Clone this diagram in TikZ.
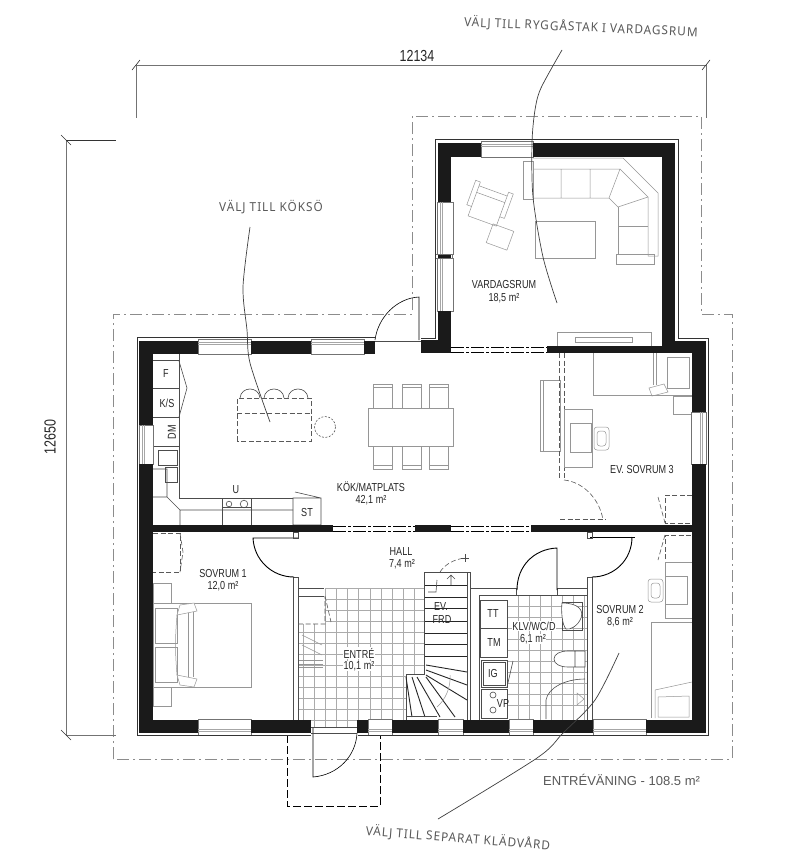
\documentclass[tikz,border=0pt]{standalone}
\usepackage{fontspec}
\setmainfont[FakeStretch=0.78]{Liberation Sans}
\newfontfamily\plainfont{Liberation Sans}
\newfontfamily\handfont[LetterSpace=8,FakeStretch=0.95]{Noto Sans}
\definecolor{wallblack}{HTML}{1A1A1A}
\definecolor{furngray}{HTML}{969696}
\definecolor{tilegray}{HTML}{ABABAB}
\tikzset{
  wall/.style = {fill=wallblack},
  windowbox/.style = {draw=black!55, fill=white, line width=0.45pt},
  winrule/.style = {draw=black!35, line width=0.45pt},
  outline/.style = {draw=black!80, line width=0.8pt},
  opening/.style = {draw=black, line width=0.9pt, dash pattern=on 13pt off 2pt on 3pt off 2pt},
  plotline/.style = {draw=black!45, line width=0.9pt, dash pattern=on 12pt off 4pt on 2pt off 4pt},
  furn/.style = {draw=furngray, line width=0.5pt},
  furndash/.style = {draw=black!65, line width=0.6pt, dash pattern=on 5pt off 2.5pt},
  fixture/.style = {draw=black!70, line width=0.6pt},
  tile/.style = {draw=tilegray, line width=0.45pt},
  door/.style = {draw=black, line width=0.9pt},
  leader/.style = {draw=black!75, line width=0.7pt},
  dim/.style = {draw=black!55, line width=0.8pt},
  room/.style = {inner sep=0.5pt, font=\fontsize{11.6}{12}\selectfont, text=black!85},
  roomfill/.style = {room, fill=white},
  hand/.style = {inner sep=0pt, font=\handfont\fontsize{12.4}{14}\selectfont, text=black!65}
}
\begin{document}
\begin{tikzpicture}[x=1pt, y=-1pt]
  \useasboundingbox (0,0) rectangle (800,865);
  \fill[white] (0,0) rectangle (800,865);
  % tiles
  \foreach \tx in {325,336.2,347.4,358.6,369.8,381,392.2,403.4,414.6}
    \draw[tile] (\tx,588) -- (\tx,727);
  \foreach \tx in {303,314}
    \draw[tile] (\tx,624) -- (\tx,727);
  \foreach \ty in {588,599,610,621}
    \draw[tile] (325,\ty) -- (424,\ty);
  \foreach \ty in {632,643,654,665,676,687,698,709,720}
    \draw[tile] (298,\ty) -- (424,\ty);
  \foreach \tx in {518,529,540,551,562,573,584}
    \draw[tile] (\tx,595) -- (\tx,720);
  \foreach \ty in {606,617,628,639,650,661,672,683,694,705}
    \draw[tile] (507,\ty) -- (587,\ty);
  % outer plot line
  \draw[plotline] (113,759) -- (113,314) -- (412,314) -- (412,116) -- (701,116) -- (701,314) -- (732,314) -- (732,759) -- cycle;
  % dimensions
  \draw[dim] (136,65) -- (706,65);
  \draw[dim] (136,65) -- (136,118);
  \draw[dim] (706,65) -- (706,118);
  \draw[dim] (66,140) -- (66,735);
  \draw[dim, black!80] (66,140) -- (116,140);
  \draw[dim] (66,735) -- (116,735);
  \foreach \tx/\ty in {136/65,706/65}
    \draw[black!80, line width=0.6pt] (\tx-4,\ty+5) -- (\tx+4,\ty-5);
  \foreach \tx/\ty in {66/140,66/735}
    \draw[black!80, line width=0.6pt] (\tx-5,\ty-5) -- (\tx+5,\ty+5);
  % entrance steps
  \draw[black, line width=1pt, dash pattern=on 8pt off 3pt] (287,735) -- (287,806) -- (380,806) -- (380,735);
  % interior thin walls
  \foreach \xa/\ya/\xb/\yb in {293/577/298/720, 587/577/592/720, 466/588/470/720}
    \draw[fixture, fill=white] (\xa,\ya) rectangle (\xb,\yb);
  \draw[fixture, line width=0.9pt] (298,588) -- (324,588) (298,596) -- (324,596);
  \draw[fixture, line width=0.9pt] (470,588) -- (516,588) -- (516,595) (557,595) -- (557,588) -- (587,588);
  \draw[fixture] (479,720) -- (479,595) -- (587,595);
  % doors
  \draw[door] (298,538) -- (253,538) .. controls (254,560) and (272,577) .. (294,577);
  \draw[door] (590,537) -- (635,537);
  \draw[door] (632,537) .. controls (632,560) and (614,577) .. (592,577);
  \draw[door] (557,590) -- (557,548) .. controls (534,549) and (517,566) .. (517,590);
  \draw[fixture] (293,532) rectangle (298,538) (587,532) rectangle (592,538);
  \draw[door, line width=0.6pt] (313,727) -- (313,777) .. controls (338,775) and (356,756) .. (357,733);
  \draw[door, line width=0.6pt] (419,340) -- (419,297) .. controls (397,298) and (378,317) .. (375,340);
  \draw[fixture, line width=0.5pt] (375,341) -- (421,341) (311,727) -- (357,727) (311,733) -- (357,733);
  \draw[furndash] (564,480) .. controls (584,482) and (600,500) .. (603,520);
  \draw[furndash] (560,519) -- (606,519);
  % kitchen counters
  \draw[fixture] (153,360) -- (179,360) (153,388) -- (179,388) (153,417) -- (179,417) (153,446) -- (179,446);
  \draw[fixture] (179,354) -- (179,498) -- (293,498);
  \draw[fixture] (179,361) -- (187,388) -- (179,417);
  \draw[fixture] (158,450) rectangle (177,465) (165,467) rectangle (177,482);
  \draw[fixture] (153,469) -- (167,469) -- (167,497) -- (180,510) -- (293,510) (153,497) -- (167,497) (180,510) -- (180,525);
  \draw[fixture] (222,498) -- (222,525) (251,498) -- (251,525) (222,507) -- (251,507);
  \draw[fixture] (229,504) circle (2.8) (244,504) circle (3.8);
  \draw[fixture] (293,498) rectangle (321,525) (295,492) -- (321,498);
  % kitchen island and table
  \draw[furndash] (237,441) rectangle (311,398) (237,413) -- (311,413);
  \foreach \tx in {250,274,298}
    \draw[fixture] (\tx-10,398) .. controls (\tx-9,386) and (\tx+9,386) .. (\tx+10,398);
  \draw[furndash, dash pattern=on 2pt off 1.5pt] (325,427) circle (10.5);
  \draw[furn] (368,408) rectangle (453,446);
  \foreach \tx in {373,402,429} {
    \draw[furn] (\tx,408) rectangle (\tx+19,384) (\tx,387) -- (\tx+19,387);
    \draw[furn] (\tx,446) rectangle (\tx+19,469) (\tx,465) -- (\tx+19,465);
  }
  % living room furniture
  \draw[furn] (523,161) rectangle (533,199);
  \draw[furn] (533,169) -- (620,169) -- (609,198) -- (533,198) (561,169) -- (561,198) (590,169) -- (590,198);
  \draw[furn] (533,158) -- (623,158) -- (658,193) -- (658,256) -- (648,256) -- (648,197) -- (620,169);
  \draw[furn] (609,198) -- (618,207) -- (648,197);
  \draw[furn] (618,207) -- (618,255) (618,226) -- (648,226);
  \draw[furn] (616,254) rectangle (654,264);
  \draw[furn] (535,221) rectangle (595,258);
  \draw[furn, rotate around={-20:(488,205)}] (473,190) rectangle (503,222) (468,186) rectangle (473,212) (503,186) rectangle (508,212) (473,197) -- (503,197);
  \draw[furn, rotate around={-20:(500,237)}] (489,227) rectangle (511,247);
  \draw[furn] (557,332) rectangle (651,346) (575,337) rectangle (632,342);
  % bedroom 3
  \draw[furn] (540,380) rectangle (560,451) (543,380) -- (543,451);
  \draw[furndash, line width=0.5pt] (559,353) -- (559,479) (564,353) -- (564,479);
  \draw[furn] (564,409) rectangle (592,467) (570,423) rectangle (591,452);
  \draw[furn, rounded corners=3pt] (594,427) rectangle (609,450) (597,431) rectangle (606,446);
  \draw[furn] (593,353) -- (593,395) -- (692,395);
  \draw[furn] (653,353) -- (653,385) (656,353) -- (656,385) (667,357) rectangle (689,388);
  \draw[furn] (649,388) -- (664,384) -- (668,392) -- (652,396) -- cycle;
  \draw[furn] (673,396) rectangle (692,414);
  % wardrobes
  \draw[furndash] (692,495) -- (665,495) -- (665,523) -- (692,523);
  \draw[furndash] (692,562) -- (665,562) -- (665,535) -- (692,535);
  \draw[furndash] (658,497) -- (665,523) (665,535) -- (658,560);
  \draw[furndash] (153,533) -- (180,533) -- (180,572) -- (153,572);
  \draw[furndash] (180,533) -- (183,552) -- (180,572);
  \draw[furndash] (298,624) -- (325,624) -- (325,596) (325,596) -- (331,622);
  % bedroom 1
  \draw[furn] (153,583) rectangle (171,603) (153,687) rectangle (171,706);
  \draw[furn] (153,603) rectangle (251,687);
  \draw[furn] (155,608) rectangle (177,643) (155,647) rectangle (177,682);
  \draw[furn] (188,612) -- (188,677) (193,612) -- (193,677);
  \draw[furn, fill=white] (177,615) -- (180,605) -- (194,603) -- (197,611) -- cycle (177,675) -- (180,685) -- (194,687) -- (197,679) -- cycle;
  \draw[furn] (177,615) .. controls (175,640) and (175,650) .. (177,675);
  \foreach \ta in {635,645}
    \draw[furn] (302,\ta) -- (322,\ta+10);
  \foreach \ta in {660,664,667}
    \draw[furn] (299,\ta) -- (323,\ta);
  % bedroom 2
  \draw[furn] (665,562) rectangle (692,618) (665,576) rectangle (687,604);
  \draw[furn, rounded corners=3pt] (648,579) rectangle (663,602) (651,583) rectangle (660,598);
  \draw[furn] (692,622) -- (651,622) -- (651,718);
  \draw[furn] (655,718) -- (655,690) -- (692,682) (658,697) -- (689,696) -- (689,717) -- (658,717) -- cycle;
  % stairs
  \draw[fixture, line width=0.9pt, fill=white] (424,674) -- (424,572) -- (470,572) -- (470,720) -- (406,720) -- (406,674) -- cycle;
  \draw[fixture] (467,572) -- (467,720);
  \foreach \ty in {585,597,608,621,633,644,656}
    \draw[black!85, line width=0.9pt] (425,\ty) -- (467,\ty);
  \foreach \ax/\ay/\bx/\by in {426/665/467/672, 426/670/467/685, 426/675/467/700, 426/677/455/717, 417/677/440/717, 412/677/425/717, 406/677/412/717}
    \draw[black!85, line width=0.9pt] (\ax,\ay) -- (\bx,\by);
  \draw[fixture] (406,716) -- (437,716);
  \draw[furn] (450,675) .. controls (451,688) and (445,700) .. (437,707);
  \draw[fixture] (447,579) -- (451,575) -- (455,579) (451,575) -- (451,585);
  \draw[furndash] (440,572) .. controls (445,564) and (455,559) .. (465,558);
  \draw[fixture] (461,558) -- (469,558) (465,554) -- (465,562);
  \draw[fixture] (437,580) -- (436,592) -- (428,592);
  % bathroom
  \fill[white] (480,600) rectangle (507,718);
  \draw[fixture] (480,600) rectangle (507,657) (480,628) -- (507,628);
  \draw[fixture] (481,660) rectangle (507,687) (483,662) rectangle (505,685);
  \draw[fixture] (481,689) rectangle (507,718);
  \draw[fixture] (493,695) circle (3) (493,710) circle (3);
  \draw[fixture] (507,687) -- (513,661);
  \draw[fixture] (562,602) rectangle (582,630);
  \draw[fixture, fill=white] (562,603) .. controls (578,603) and (584,610) .. (581,618) .. controls (578,626) and (570,630) .. (566,629) .. controls (562,625) and (561,610) .. (562,603) -- cycle;
  \draw[fixture, fill=white] (575,651) -- (568,651) .. controls (560,651) and (554,654) .. (554,659) .. controls (554,664) and (560,667) .. (568,667) -- (575,667) -- cycle (575,651) rectangle (585,667);
  \draw[fixture] (546,719) -- (546,700) .. controls (548,688) and (565,679) .. (585,679);
  \draw[furn] (577,693) -- (584,699) -- (577,705) -- cycle;
  % windows
  \foreach \xa/\xb in {198/251, 311/364} {
    \draw[windowbox] (\xa,339) rectangle (\xb,354);
    \draw[winrule] (\xa,342) -- (\xb,342) (\xa,344.5) -- (\xb,344.5);
  }
  \foreach \xa/\xb in {481/533} {
    \draw[windowbox] (\xa,141) rectangle (\xb,157);
    \draw[winrule] (\xa,144) -- (\xb,144) (\xa,146.5) -- (\xb,146.5);
  }
  \foreach \xa/\xb in {198/251, 368/392, 438/463, 509/533, 593/646} {
    \draw[windowbox] (\xa,719) rectangle (\xb,735);
    \draw[winrule] (\xa,729) -- (\xb,729) (\xa,731.5) -- (\xb,731.5);
  }
  \foreach \ya/\yb in {202/254, 258/311} {
    \draw[windowbox] (437,\ya) rectangle (453,\yb);
    \draw[winrule] (440,\ya) -- (440,\yb) (442.5,\ya) -- (442.5,\yb);
  }
  \draw[windowbox] (139,425) rectangle (153,464);
  \draw[winrule] (142,425) -- (142,464) (144.5,425) -- (144.5,464);
  \draw[windowbox] (691,412) rectangle (706,464);
  \draw[winrule] (700,412) -- (700,464) (702.5,412) -- (702.5,464);
  % walls
  \foreach \xa/\ya/\xb/\yb in {139/341/153/425, 139/464/153/733, 139/341/198/354, 251/341/311/354, 364/341/375/354,
      421/340/451/353, 438/143/451/202, 438/311/451/340, 438/143/481/157, 533/143/675/157, 662/143/675/341,
      547/346/692/353, 662/341/706/353, 692/341/706/412, 692/464/706/733,
      153/525/333/532, 415/525/451/532, 531/525/692/532,
      139/720/198/733, 251/720/311/733, 357/720/368/733, 392/720/438/733, 463/720/509/733, 533/720/593/733, 646/720/705/733}
    \fill[wall] (\xa,\ya) rectangle (\xb,\yb);
  \draw[windowbox] (435,254) rectangle (452,258);
  \fill[wall] (438,254.5) rectangle (451,257.5);
  % openings
  \draw[opening] (451,347) -- (547,347) (451,352) -- (547,352);
  \draw[opening] (333,526) -- (415,526) (333,531) -- (415,531);
  \draw[opening] (451,526) -- (531,526) (451,531) -- (531,531);
  % outline of the house
  \draw[outline] (375,337) -- (137,337) -- (137,735) -- (311,735);
  \draw[outline] (358,735) -- (708,735) -- (708,338) -- (678,338) -- (678,139.5) -- (435,139.5) -- (435,338) -- (421,338);
  % leaders
  \draw[leader] plot[smooth] coordinates {(250,227) (243,287) (247,330) (250,363) (270,422)};
  \draw[leader] plot[smooth] coordinates {(562,50) (541,88) (535,110) (532,143) (533,197) (543,257) (557,303)};
  \draw[leader] plot[smooth] coordinates {(619,653) (595,700) (563,733) (537,758) (438,819)};
  % labels
  \node[room] (kokname) at (371,487) {KÖK/MATPLATS};
  \node[room] (kokarea) at (371,500) {42,1 m²};
  \node[room] (hallname) at (401,552) {HALL};
  \node[room] (hallarea) at (402,564) {7,4 m²};
  \node[room] (sov1name) at (223,573) {SOVRUM 1};
  \node[room] (sov1area) at (223,586) {12,0 m²};
  \node[roomfill] (entrename) at (359,653) {ENTRÉ};
  \node[roomfill] (entrearea) at (359,666) {10,1 m²};
  \node[room] (frdone) at (441,607) {EV.};
  \node[room] (frdtwo) at (442,620) {FRD};
  \node[roomfill] (klvname) at (534,626) {KLV/WC/D};
  \node[roomfill] (klvarea) at (533,639) {6,1 m²};
  \node[room] (sov2name) at (620,609) {SOVRUM 2};
  \node[room] (sov2area) at (620,622) {8,6 m²};
  \node[room] (vardname) at (504,285) {VARDAGSRUM};
  \node[room] (vardarea) at (504,298) {18,5 m²};
  \node[room] (sov3name) at (642,470) {EV. SOVRUM 3};
  \node[room] (ttlabel) at (493,614) {TT};
  \node[room] (tmlabel) at (494,643) {TM};
  \node[room] (iglabel) at (493,673) {IG};
  \node[room] (vplabel) at (503,704) {VP};
  \node[room] (flabel) at (166,374) {F};
  \node[room] (kslabel) at (167,403) {K/S};
  \node[room, rotate=90] (dmlabel) at (172,432) {DM};
  \node[room] (ulabel) at (236,490) {U};
  \node[room] (stlabel) at (307,512) {ST};
  \node[room, font=\fontsize{16}{17}\selectfont] (widthlabel) at (417,56) {12134};
  \node[room, font=\fontsize{16}{17}\selectfont, rotate=90] (depthlabel) at (50,437) {12650};
  \node[inner sep=0pt, anchor=west, text=black!65, font=\plainfont\fontsize{13}{14}\selectfont] (planlabel) at (543,780) {ENTRÉVÄNING - 108.5 m²};
  \node[hand, rotate=-2.5] (roofnote) at (581,27) {VÄLJ TILL RYGGÅSTAK I VARDAGSRUM};
  \node[hand] (islandnote) at (271,207) {VÄLJ TILL KÖKSÖ};
  \node[hand, rotate=-4.5] (wardrobenote) at (458,838) {VÄLJ TILL SEPARAT KLÄDVÅRD};
\end{tikzpicture}
\end{document}
